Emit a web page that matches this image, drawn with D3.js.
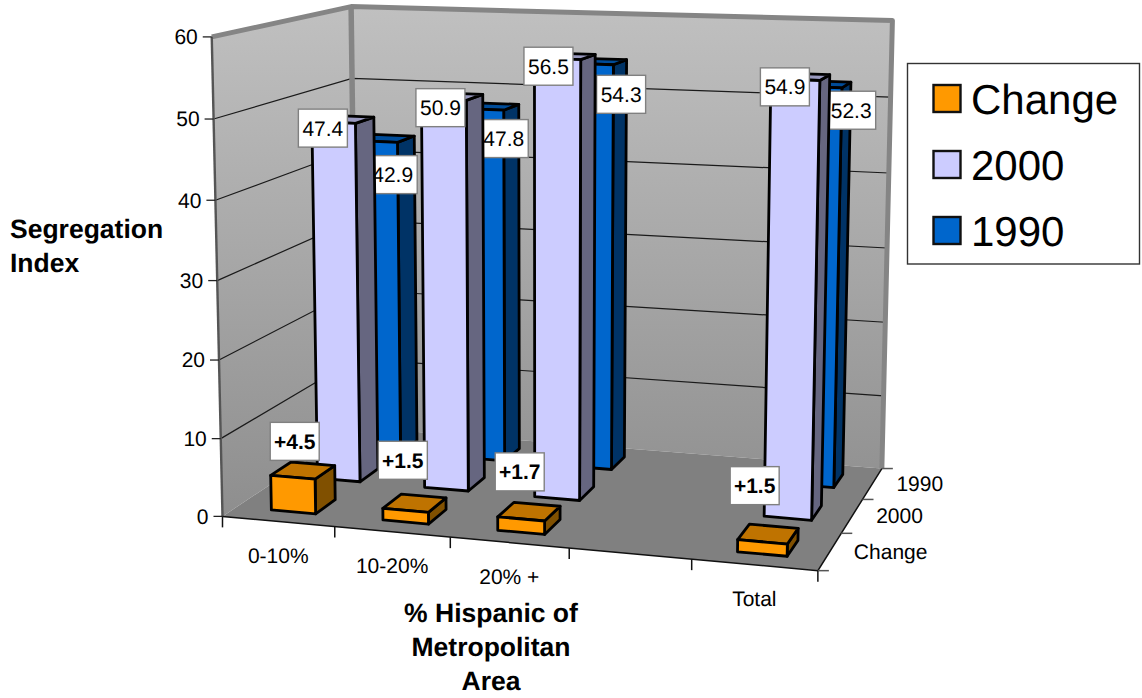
<!DOCTYPE html>
<html>
<head>
<meta charset="utf-8">
<script src="https://cdn.jsdelivr.net/npm/d3@7"></script>
<style>
  html, body { margin: 0; padding: 0; background: #fff; }
  svg { display: block; }
  text { font-family: "Liberation Sans", Arial, sans-serif; fill: #000; text-rendering: geometricPrecision; }
</style>
</head>
<body>
<svg id="chart" width="1142" height="698"></svg>
<script>
// Segregation index by metro-area Hispanic share
const categories = ["0-10%", "10-20%", "20% +", "", "Total"];
const seriesNames = ["Change", "2000", "1990"];
const changeValues = [4.5, 1.5, 1.7, null, 1.5];
const values2000 = [47.4, 50.9, 56.5, null, 54.9];
const values1990 = [42.9, 47.8, 54.3, null, 52.3];
const valueTicks = [0, 10, 20, 30, 40, 50, 60];

const seriesValues = { "Change": changeValues, "2000": values2000, "1990": values1990 };
const palette = {
  "Change": { front: "#FF9900", top: "#BF7300", side: "#805000" },
  "2000": { front: "#CCCCFF", top: "#9999BF", side: "#666680" },
  "1990": { front: "#0066CC", top: "#004C99", side: "#003366" }
};

// Reference frame of the plot box: unit x (categories), value, unit z (series depth) -> screen
const frame = [
  [[0, 0, 0], [225, 516]],
  [[1, 0, 0], [817, 572]],
  [[0, 60, 0], [210, 36]],
  [[0, 0, 1], [354, 428]],
  [[1, 0, 1], [883, 467]],
  [[0, 60, 1], [353, 7]],
  [[1, 60, 1], [892, 21]]
];

const xUnit = d3.scaleLinear().domain([0, 1]).range([0, 1]);
const yUnit = d3.scaleLinear().domain([0, 60]).range([0, 1]);
const xBand = d3.scaleBand().domain(categories).range([0.003, 1.0]).paddingInner(0.6).paddingOuter(0.3);
const zBand = d3.scaleBand().domain(seriesNames).range([0, 1]).paddingInner(0.57).paddingOuter(0.285);
const xStep = d3.scaleBand().domain(categories).range([0, 1]);
const zStep = d3.scaleBand().domain(seriesNames).range([0, 1]);

// Least-squares fit of a 3x4 projective camera (lower-right entry fixed at 1)
function fitCamera(pairs) {
  const A = [], b = [];
  for (const [[wx, wv, wz], [u0, v0]] of pairs) {
    const X = xUnit(wx), Y = yUnit(wv), Z = wz, u = u0 / 1000, v = v0 / 1000;
    A.push([X, Y, Z, 1, 0, 0, 0, 0, -u * X, -u * Y, -u * Z]); b.push(u);
    A.push([0, 0, 0, 0, X, Y, Z, 1, -v * X, -v * Y, -v * Z]); b.push(v);
  }
  const n = 11;
  const M = d3.range(n).map(i => d3.range(n + 1).map(j => {
    if (j === n) return d3.sum(A, (r, k) => r[i] * b[k]);
    return d3.sum(A, r => r[i] * r[j]);
  }));
  for (let c = 0; c < n; c++) {
    let best = c;
    for (let r = c + 1; r < n; r++) if (Math.abs(M[r][c]) > Math.abs(M[best][c])) best = r;
    [M[c], M[best]] = [M[best], M[c]];
    for (let r = 0; r < n; r++) {
      if (r === c) continue;
      const f = M[r][c] / M[c][c];
      for (let k = c; k <= n; k++) M[r][k] -= f * M[c][k];
    }
  }
  return d3.range(n).map(i => M[i][n] / M[i][i]);
}
const cam = fitCamera(frame);

// Project unit-x, data value, unit-z to a screen point
function project(ux, value, uz) {
  const Y = yUnit(value);
  const w = cam[8] * ux + cam[9] * Y + cam[10] * uz + 1;
  return [
    1000 * (cam[0] * ux + cam[1] * Y + cam[2] * uz + cam[3]) / w,
    1000 * (cam[4] * ux + cam[5] * Y + cam[6] * uz + cam[7]) / w
  ];
}

const svg = d3.select("#chart");
const poly = pts => d3.line()(pts) + "Z";

const defs = svg.append("defs");
const wallFill = defs.append("linearGradient")
  .attr("id", "wallFill").attr("gradientUnits", "userSpaceOnUse")
  .attr("x1", 0).attr("x2", 0).attr("y1", 7).attr("y2", 516);
wallFill.append("stop").attr("offset", 0).attr("stop-color", "#C0C0C0");
wallFill.append("stop").attr("offset", 1).attr("stop-color", "#8E8E8E");

// Walls and floor
const walls = svg.append("g");
walls.append("path").attr("fill", "url(#wallFill)")
  .attr("d", poly([project(0, 0, 1), project(1, 0, 1), project(1, 60, 1), project(0, 60, 1)]));
walls.append("path").attr("fill", "url(#wallFill)")
  .attr("d", poly([project(0, 0, 0), project(0, 0, 1), project(0, 60, 1), project(0, 60, 0)]));
walls.append("path").attr("fill", "#808080")
  .attr("d", poly([project(0, 0, 0), project(1, 0, 0), project(1, 0, 1), project(0, 0, 1)]));

// Gridlines on both walls
const grid = svg.append("g").attr("fill", "none").attr("stroke", "#1a1a1a").attr("stroke-width", 1.2);
valueTicks.filter(v => v > 0 && v < 60).forEach(v => {
  grid.append("path").attr("d", d3.line()([project(0, v, 0), project(0, v, 1), project(1, v, 1)]));
});

// Thick wall rims
svg.append("path").attr("fill", "none").attr("stroke", "#858585").attr("stroke-width", 5)
  .attr("stroke-linejoin", "round")
  .attr("d", d3.line()([project(0, 60, 0), project(0, 60, 1), project(1, 60, 1), project(1, 0, 1)]));
svg.append("path").attr("fill", "none").attr("stroke", "#858585").attr("stroke-width", 5.5)
  .attr("d", d3.line()([project(0, 60, 1), project(0, 0, 1)]));

// Value axis
const axis = svg.append("g");
axis.append("path").attr("fill", "none").attr("stroke", "#555").attr("stroke-width", 2.4)
  .attr("d", d3.line()([project(0, 60, 0), project(0, 0, 0)]));
valueTicks.forEach(v => {
  const [px, py] = project(0, v, 0);
  axis.append("line").attr("x1", px - 9).attr("x2", px).attr("y1", py).attr("y2", py)
    .attr("stroke", "#222").attr("stroke-width", 1.3);
  axis.append("text").attr("x", px - 14).attr("y", py).attr("dy", "0.35em")
    .attr("text-anchor", "end").attr("font-size", 21).text(v);
});

// Front and right floor edges with their ticks
const edges = svg.append("g").attr("fill", "none").attr("stroke", "#111").attr("stroke-width", 1.5);
edges.append("path").attr("d", d3.line()([project(0, 0, 0), project(1, 0, 0), project(1, 0, 1)]));
categories.concat(["end"]).forEach((c, i) => {
  const ux = i === categories.length ? 1 : xStep(c);
  const [px, py] = project(ux, 0, 0);
  edges.append("line").attr("x1", px).attr("x2", px).attr("y1", py).attr("y2", py + 11);
});
seriesNames.concat(["end"]).forEach((s, i) => {
  const uz = i === seriesNames.length ? 1 : zStep(s);
  const [px, py] = project(1, 0, uz);
  edges.append("line").attr("x1", px).attr("x2", px + 11).attr("y1", py).attr("y2", py)
    .attr("stroke", "#555");
});

// Category labels along the front edge
categories.forEach(c => {
  if (!c) return;
  const [px, py] = project(xStep(c) + xStep.bandwidth() / 2, 0, 0);
  svg.append("text").attr("x", px).attr("y", py + 34).attr("dy", "0.35em")
    .attr("text-anchor", "middle").attr("font-size", 21).text(c);
});

// Series labels along the right edge
seriesNames.forEach(s => {
  const [px, py] = project(1, 0, zStep(s) + zStep.bandwidth() / 2);
  svg.append("text").attr("x", px + 24).attr("y", py).attr("dy", "0.35em")
    .attr("font-size", 21).text(s);
});

// Offsets of each value box from the top-front-left corner of its bar, by category
const labelOffset = {
  "Change": [[24, -34], [20, -48], [22, -45], null, [17, -54]],
  "2000": [[11, 6.5], [19, 9], [14, 8], null, [14, 8]],
  "1990": [[37, 34], [43, 30], [52, 31], null, [56, 24]]
};

function drawBar(g, series, cat, value) {
  const x0 = xBand(cat), x1 = x0 + xBand.bandwidth();
  const z0 = zBand(series), z1 = z0 + zBand.bandwidth();
  const c = palette[series];
  const face = (pts, fill) => g.append("path").attr("d", poly(pts)).attr("fill", fill)
    .attr("stroke", "#000").attr("stroke-width", 2.8).attr("stroke-linejoin", "round");
  face([project(x1, 0, z0), project(x1, 0, z1), project(x1, value, z1), project(x1, value, z0)], c.side);
  face([project(x0, value, z0), project(x1, value, z0), project(x1, value, z1), project(x0, value, z1)], c.top);
  face([project(x0, 0, z0), project(x1, 0, z0), project(x1, value, z0), project(x0, value, z0)], c.front);
}

function drawLabel(g, series, cat, value, i) {
  const [px, py] = project(xBand(cat), value, zBand(series));
  const off = labelOffset[series][i];
  const cx = px + off[0], cy = py + off[1];
  const bold = series === "Change";
  g.append("rect").attr("x", cx - 24.5).attr("y", cy - 19).attr("width", 49).attr("height", 38)
    .attr("fill", "#fff").attr("stroke", "#808080").attr("stroke-width", 1.4);
  g.append("text").attr("x", cx).attr("y", cy).attr("dy", "0.36em")
    .attr("text-anchor", "middle").attr("font-size", 21)
    .attr("font-weight", bold ? "bold" : "normal")
    .text(bold ? "+" + value.toFixed(1) : value.toFixed(1));
}

// Series are painted back to front, each with its value boxes
["1990", "2000", "Change"].forEach(series => {
  const g = svg.append("g");
  const vals = seriesValues[series];
  categories.forEach((cat, i) => {
    if (vals[i] != null) drawBar(g, series, cat, vals[i]);
  });
  categories.forEach((cat, i) => {
    if (vals[i] != null) drawLabel(g, series, cat, vals[i], i);
  });
});

// Legend
const legend = svg.append("g");
legend.append("rect").attr("x", 907.5).attr("y", 63.5).attr("width", 232).attr("height", 200.5)
  .attr("fill", "#fff").attr("stroke", "#333").attr("stroke-width", 1.4);
seriesNames.forEach((s, i) => {
  const top = 85 + i * 66;
  legend.append("rect").attr("x", 933.5).attr("y", top).attr("width", 27).attr("height", 27)
    .attr("fill", palette[s].front).attr("stroke", "#111").attr("stroke-width", 2.4);
  legend.append("text").attr("x", 971).attr("y", top + 14).attr("dy", "0.36em")
    .attr("font-size", 42).text(s);
});

// Axis titles
const titleY = [["Segregation", 229], ["Index", 263]];
titleY.forEach(([t, y]) => {
  svg.append("text").attr("x", 10).attr("y", y).attr("dy", "0.35em")
    .attr("font-size", 26.5).attr("font-weight", "bold").text(t);
});
const titleX = [["% Hispanic of", 613], ["Metropolitan", 647], ["Area", 681]];
titleX.forEach(([t, y]) => {
  svg.append("text").attr("x", 491).attr("y", y).attr("dy", "0.35em")
    .attr("text-anchor", "middle").attr("font-size", 26.5).attr("font-weight", "bold").text(t);
});
</script>
</body>
</html>
